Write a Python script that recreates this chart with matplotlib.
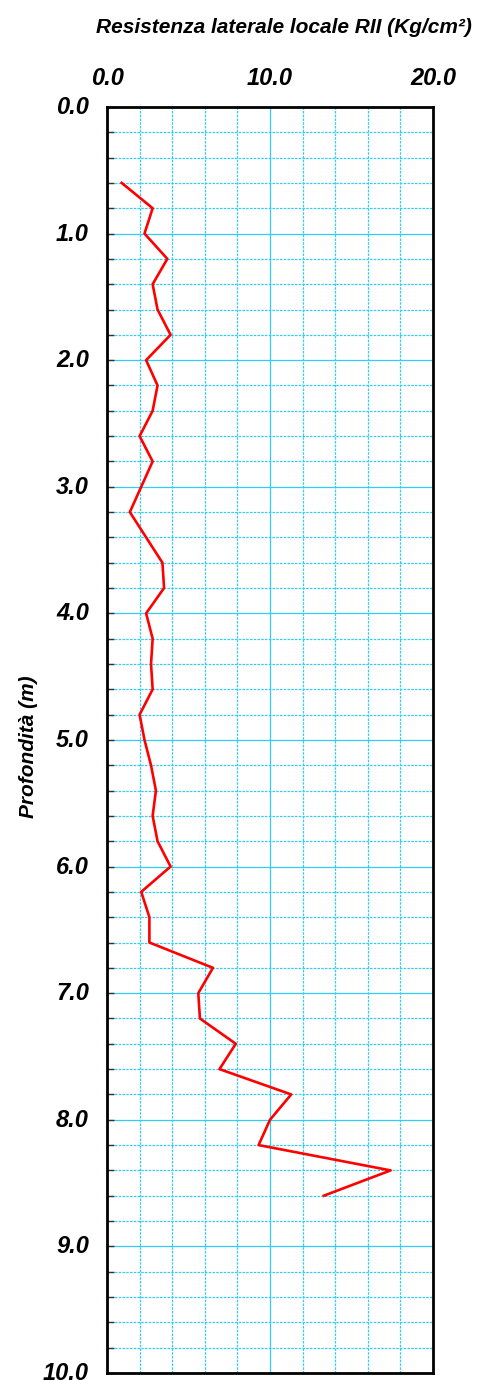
import numpy as np
import matplotlib.pyplot as plt
import matplotlib.transforms as mtransforms
from matplotlib.ticker import MultipleLocator

# depth (m) and lateral resistance (Kg/cm2)
depth = [0.6, 0.8, 1.0, 1.2, 1.4, 1.6, 1.8, 2.0, 2.2, 2.4, 2.6, 2.8, 3.0, 3.2,
         3.4, 3.6, 3.8, 4.0, 4.2, 4.4, 4.6, 4.8, 5.0, 5.2, 5.4, 5.6, 5.8, 6.0,
         6.2, 6.4, 6.6, 6.8, 7.0, 7.2, 7.4, 7.6, 7.8, 8.0, 8.2, 8.4, 8.6]
rll = [0.9, 2.8, 2.3, 3.7, 2.8, 3.1, 3.9, 2.4, 3.1, 2.8, 2.0, 2.8, 2.1, 1.4,
       2.4, 3.4, 3.5, 2.4, 2.8, 2.7, 2.8, 2.0, 2.3, 2.7, 3.0, 2.8, 3.1, 3.9,
       2.1, 2.6, 2.6, 6.5, 5.6, 5.7, 7.9, 6.9, 11.3, 10.0, 9.3, 17.4, 13.3]

xticks = [0, 10, 20]
xlabels = ['0.0', '10.0', '20.0']
yticks = np.arange(0, 11, 1)

plt.rcParams['font.family'] = ['Liberation Sans', 'DejaVu Sans']
grid_c = '#33ccf5'

fig = plt.figure(figsize=(4.92, 13.8), dpi=100)
ax = fig.add_axes([0.2175, 0.0051, 0.6626, 0.9174])

# grid
for v in np.arange(2, 20, 2):
    ax.axvline(v, color=grid_c, lw=0.9, ls='-' if v == 10 else (0, (2, 1)), zorder=1)
for d in np.arange(0.2, 10, 0.2):
    major = abs(d - round(d)) < 1e-6
    ax.axhline(d, color=grid_c, lw=0.9, ls='-' if major else (0, (2, 1)), zorder=1)

ax.plot(rll, depth, color='#ff0000', lw=1.9, zorder=3)

ax.set_xlim(0, 20)
ax.set_ylim(10, 0)
ax.xaxis.tick_top()
ax.set_xticks(xticks)
ax.set_xticklabels(xlabels)
ax.set_yticks(yticks)
ax.set_yticklabels(['%.1f' % t for t in yticks])
ax.yaxis.set_minor_locator(MultipleLocator(0.2))
ax.tick_params(axis='x', length=0, pad=12, labelsize=17)
ax.tick_params(axis='y', which='both', direction='in', length=5, width=1,
               color='#333333', pad=13, labelsize=17)
up = mtransforms.ScaledTranslation(0, 2 / 100, fig.dpi_scale_trans)
for lab in ax.get_xticklabels() + ax.get_yticklabels():
    lab.set_fontweight('bold')
    lab.set_fontstyle('italic')
for lab in ax.get_yticklabels():
    lab.set_transform(lab.get_transform() + up)

for s in ax.spines.values():
    s.set_linewidth(2)
    s.set_color('black')

fig.text(0.96, 0.980, 'Resistenza laterale locale RII (Kg/cm²)', ha='right',
         va='center', fontsize=15, fontweight='bold', fontstyle='italic')
fig.text(0.057, 0.459, 'Profondità (m)', rotation=90, ha='center', va='center',
         fontsize=15, fontweight='bold', fontstyle='italic')

fig.savefig('out.png', dpi=100)
